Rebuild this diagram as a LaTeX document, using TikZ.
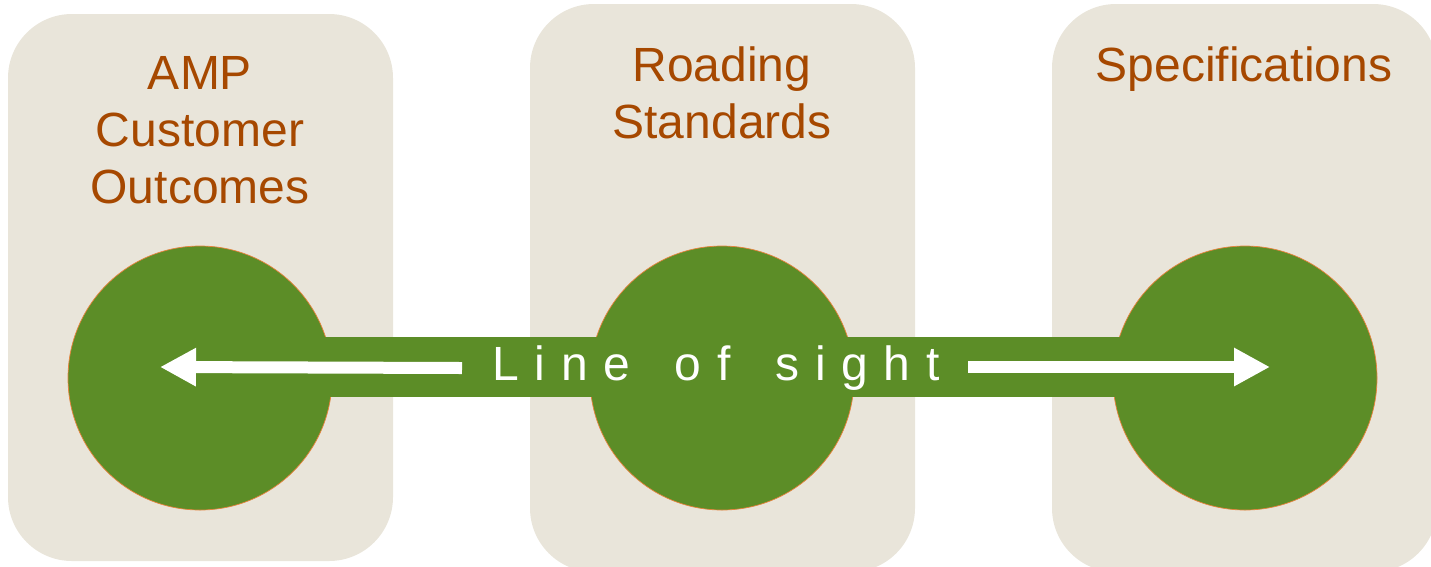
\documentclass[tikz,border=0pt]{standalone}
\usepackage{fontspec}
\setmainfont{Liberation Sans}
\usetikzlibrary{arrows.meta}
\definecolor{beige}{RGB}{233,229,218}
\definecolor{leaf}{RGB}{92,141,39}
\definecolor{rust}{RGB}{166,72,0}
\definecolor{rim}{RGB}{232,130,60}
\newcommand{\lsp}{\hspace{15.7pt}}
\begin{document}
\begin{tikzpicture}[x=1pt,y=-1pt,
  panel/.style={fill=beige, rounded corners=64pt},
  disc/.style={circle, fill=leaf, draw=rim, line width=0.7pt, minimum size=264pt, inner sep=0pt},
  title/.style={text=rust, font=\fontsize{48}{57}\selectfont, align=center, anchor=north, inner sep=0pt},
  sight/.style={white, line width=12pt, -{Triangle[length=36pt,width=36pt]}}]
\useasboundingbox (0,0) rectangle (1431,566);
\clip (0,0) rectangle (1431,566);
% panels
\fill[panel] (8,14) rectangle (393,561);
\fill[panel] (530,4) rectangle (915,572);
\fill[panel] (1052,4) rectangle (1437,572);
% titles
\node[title] (t1) at (200,56.6) {AMP\\Customer\\Outcomes};
\node[title] (t2) at (722,46.6) {Roading\\Standards};
\node[title] (t3) at (1244,46.6) {Specifications};
% circles
\node[disc] (c1) at (200,378) {};
\node[disc] (c2) at (722,378) {};
\node[disc] (c3) at (1245,378) {};
% band
\fill[leaf] (c1.center |- 0,337) rectangle (c3.center |- 0,397);
% label
\node[text=white, font=\fontsize{48}{57}\selectfont, inner sep=0pt] (los) at (716,368)
  {L\lsp i\lsp n\lsp e\lsp\ \lsp o\lsp f\lsp\ \lsp s\lsp i\lsp g\lsp h\lsp t};
\coordinate (lt) at (160,367);
\coordinate (rt) at (1270,367);
\coordinate (ls) at (462,368);
\coordinate (rs) at (968,367);
\draw[sight] (ls) -- (lt);
\draw[sight] (rs) -- (rt);
\end{tikzpicture}
\end{document}
